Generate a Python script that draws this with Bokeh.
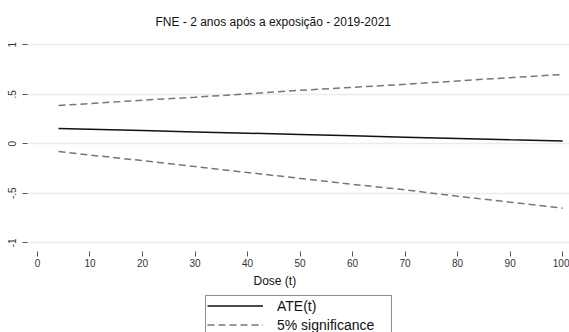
from bokeh.plotting import figure
from bokeh.layouts import column
from bokeh.models import Legend, LegendItem, Range1d, FixedTicker, Title
from bokeh.embed import file_html
from bokeh.resources import INLINE

# ---- data ----
dose = [4, 10, 20, 30, 40, 50, 60, 70, 80, 90, 100]
ate = [0.155, 0.147, 0.134, 0.120, 0.107, 0.094, 0.080, 0.067, 0.054, 0.040, 0.027]
upper = [0.387, 0.406, 0.440, 0.470, 0.505, 0.540, 0.570, 0.600, 0.635, 0.668, 0.700]
lower = [-0.078, -0.114, -0.170, -0.230, -0.290, -0.350, -0.410, -0.465, -0.530, -0.590, -0.650]

x_ticks = [0, 10, 20, 30, 40, 50, 60, 70, 80, 90, 100]
y_ticks = [-1, -0.5, 0, 0.5, 1]
y_tick_labels = ["-1", "-.5", "0", ".5", "1"]

title_text = "FNE - 2 anos após a exposição - 2019-2021"
x_title = "Dose (t)"
legend_labels = ["ATE(t)", "5% significance"]

FONT = "Liberation Sans"
ATE_STYLE = dict(line_color="#111111", line_width=1.5)
CI_STYLE = dict(line_color="#777777", line_width=1.5, line_dash="7 4")

p = figure(width=569, height=293, output_backend="svg", toolbar_location=None,
           x_range=Range1d(-1.9, 101.3), y_range=Range1d(-1.088, 1.043),
           min_border_left=27, min_border_right=0, min_border_top=40, min_border_bottom=42,
           background_fill_color="white", border_fill_color="white")
p.outline_line_color = None

p.title.text = title_text
p.title.align = "left"
p.title.offset = 128
p.title.standoff = 24
p.title.text_font = FONT
p.title.text_font_size = "12px"
p.title.text_font_style = "normal"
p.title.text_color = "#111111"

# grids
p.xgrid.grid_line_color = None
p.ygrid.grid_line_color = "#ebebeb"
p.ygrid.grid_line_width = 1.5

# x axis
xa = p.xaxis[0]
xa.ticker = FixedTicker(ticks=x_ticks)
xa.axis_line_color = None
xa.major_tick_in = 0
xa.major_tick_out = 5
xa.minor_tick_line_color = None
xa.major_tick_line_color = "#555555"
xa.major_label_text_font = FONT
xa.major_label_text_font_size = "10px"
xa.major_label_text_color = "#333333"
xa.major_label_standoff = 2

# y axis
ya = p.yaxis[0]
ya.ticker = FixedTicker(ticks=y_ticks)
ya.major_label_overrides = {t: l for t, l in zip(y_ticks, y_tick_labels)}
ya.axis_line_color = None
ya.major_tick_in = 0
ya.major_tick_out = 5
ya.minor_tick_line_color = None
ya.major_tick_line_color = "#555555"
ya.major_label_text_font = FONT
ya.major_label_text_font_size = "10px"
ya.major_label_text_color = "#333333"
ya.major_label_orientation = "vertical"
ya.major_label_standoff = 6

# lines
r_ate = p.line(dose, ate, **ATE_STYLE)
r_up = p.line(dose, upper, **CI_STYLE)
r_lo = p.line(dose, lower, **CI_STYLE)

# x axis title (a title in the below panel so that it can be offset horizontally)
xt = Title(text=x_title, align="left", offset=226, standoff=4, text_font=FONT,
           text_font_size="12px", text_font_style="normal", text_color="#111111")
p.add_layout(xt, "below")

# ---- legend strip below the chart (its key lines lie outside its own view) ----
lg = figure(width=569, height=39, output_backend="svg", toolbar_location=None,
            x_axis_location=None, y_axis_location=None,
            x_range=Range1d(1000, 1001), y_range=Range1d(1000, 1001),
            min_border_left=0, min_border_right=0, min_border_top=0, min_border_bottom=0,
            background_fill_color="white", border_fill_color="white")
lg.outline_line_color = None
lg.grid.visible = False
k_ate = lg.line(dose, ate, **ATE_STYLE)
k_ci = lg.line(dose, upper, **CI_STYLE)

legend = Legend(items=[LegendItem(label=legend_labels[0], renderers=[k_ate]),
                       LegendItem(label=legend_labels[1], renderers=[k_ci])],
                location=(178, -3), orientation="vertical",
                border_line_color="#222222", border_line_width=1,
                background_fill_color="white", background_fill_alpha=1.0,
                label_text_font=FONT, label_text_font_size="14px", label_text_color="#111111",
                glyph_width=56, glyph_height=17, label_height=17, label_standoff=14,
                label_width=113, padding=1, spacing=2, margin=0)
lg.add_layout(legend, "center")

open("out.html", "w").write(file_html(column(p, lg, spacing=0), INLINE))
